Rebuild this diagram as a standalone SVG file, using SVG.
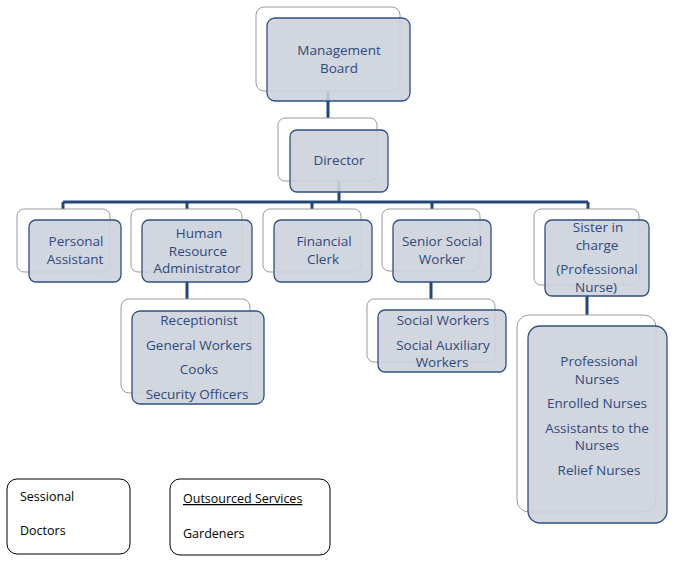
<svg xmlns="http://www.w3.org/2000/svg" width="679" height="571" viewBox="0 0 679 571">
<style>
.b{fill:#fff;stroke:#9a9a9a;stroke-width:1}
.f{fill:#cdd1da;fill-opacity:0.9;stroke:#2e4f82;stroke-width:1.3}
.t{font-family:"Open Sans","Liberation Sans",sans-serif;font-size:13.5px;fill:#2e4a7d;text-anchor:middle}
.k{font-family:"Open Sans","Liberation Sans",sans-serif;font-size:12.5px;fill:#000}
.c{fill:none;stroke:#24477a;stroke-width:3}
</style>
<rect width="679" height="571" fill="#fff"/>
<g id="connectors">
<path class="c" d="M328 91V131M339 181V202M63 202H588M63 202V220M187 202V220M312 202V220M432 202V220M588 202V220M187 282V311M431 282V310M587 296V326"/>
</g>
<g id="management"><rect class="b" x="256" y="7" width="144" height="84" rx="8"/><rect class="f" x="267" y="18" width="143" height="83" rx="8"/><text class="t" x="339" y="55">Management</text><text class="t" x="339" y="73">Board</text></g>
<g id="director"><rect class="b" x="278" y="118" width="99" height="63" rx="7"/><rect class="f" x="290" y="130" width="98" height="62" rx="7"/><text class="t" x="339" y="165">Director</text></g>
<g id="pa"><rect class="b" x="17" y="209" width="93" height="63" rx="7"/><rect class="f" x="29" y="220" width="92" height="62" rx="7"/><text class="t" x="76" y="246">Personal</text><text class="t" x="75" y="264">Assistant</text></g>
<g id="hr"><rect class="b" x="131" y="209" width="111" height="63" rx="7"/><rect class="f" x="142" y="220" width="110" height="62" rx="7"/><text class="t" x="199" y="238">Human</text><text class="t" x="198" y="256">Resource</text><text class="t" x="197" y="273">Administrator</text></g>
<g id="fin"><rect class="b" x="263" y="209" width="98" height="63" rx="7"/><rect class="f" x="274" y="220" width="98" height="62" rx="7"/><text class="t" x="324" y="246">Financial</text><text class="t" x="323" y="264">Clerk</text></g>
<g id="ssw"><rect class="b" x="382" y="209" width="98" height="62" rx="7"/><rect class="f" x="393" y="220" width="98" height="62" rx="7"/><text class="t" x="442" y="246">Senior Social</text><text class="t" x="442" y="264">Worker</text></g>
<g id="sister"><rect class="b" x="534" y="209" width="105" height="76" rx="7"/><rect class="f" x="545" y="220" width="104" height="76" rx="7"/><text class="t" x="598" y="232">Sister in</text><text class="t" x="597" y="250">charge</text><text class="t" x="597" y="274">(Professional</text><text class="t" x="596" y="292">Nurse)</text></g>
<g id="hrsub"><rect class="b" x="121" y="299" width="129" height="94" rx="8"/><rect class="f" x="132" y="311" width="132" height="93" rx="8"/><text class="t" x="199" y="325">Receptionist</text><text class="t" x="199" y="350">General Workers</text><text class="t" x="199" y="374">Cooks</text><text class="t" x="197" y="399">Security Officers</text></g>
<g id="sswsub"><rect class="b" x="367" y="299" width="128" height="63" rx="7"/><rect class="f" x="378" y="310" width="128" height="62" rx="7"/><text class="t" x="443" y="325">Social Workers</text><text class="t" x="443" y="350">Social Auxiliary</text><text class="t" x="442" y="367">Workers</text></g>
<g id="nurses"><rect class="b" x="517" y="315" width="139" height="197" rx="12"/><rect class="f" x="528" y="326" width="139" height="197" rx="12"/><text class="t" x="599" y="366">Professional</text><text class="t" x="597" y="384">Nurses</text><text class="t" x="597" y="408">Enrolled Nurses</text><text class="t" x="597" y="433">Assistants to the</text><text class="t" x="597" y="450">Nurses</text><text class="t" x="599" y="475">Relief Nurses</text></g>
<g id="sessional"><rect x="7" y="479" width="123" height="75" rx="10" fill="#fff" stroke="#000"/><text class="k" x="20" y="501">Sessional</text><text class="k" x="20" y="535">Doctors</text></g>
<g id="outsourced"><rect x="170" y="479" width="160" height="76" rx="10" fill="#fff" stroke="#000"/><text class="k" x="183" y="503" text-decoration="underline">Outsourced Services</text><text class="k" x="183" y="538">Gardeners</text></g>
</svg>
